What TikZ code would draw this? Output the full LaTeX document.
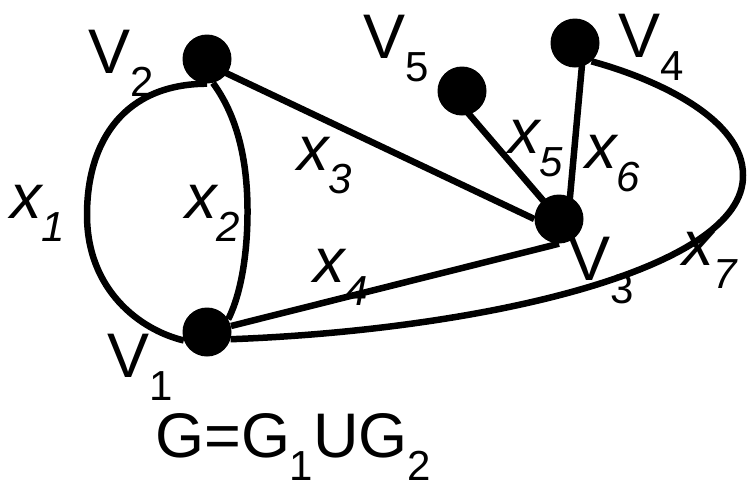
\documentclass[tikz,border=0pt]{standalone}
\usepackage{fontspec}
\setmainfont{Liberation Sans}
\usetikzlibrary{calc}
\newcommand\sbs[2]{#1\raisebox{-23pt}{\fontsize{42}{42}\selectfont #2}}
\begin{document}
\begin{tikzpicture}[x=1pt,y=-1pt,
  vtx/.style={circle,fill=black,inner sep=0pt,minimum size=49pt},
  lbl/.style={anchor=base west,inner sep=0pt,font=\fontsize{63}{63}\selectfont},
  elbl/.style={anchor=base west,inner sep=0pt,font=\fontsize{63}{63}\selectfont\itshape},
  ln/.style={line width=6.5pt}]
\useasboundingbox (0,0) rectangle (748,483);
% vertices
\node[vtx] (V2) at (207,59) {};
\node[vtx] (V1) at (207,332) {};
\node[vtx] (V3) at (559,219) {};
\node[vtx] (V5) at (462,91) {};
\node[vtx] (V4) at (575,43) {};
% edges
\draw[ln] (V2.south) .. controls (125,84) and (87,140) .. (87,215)
          .. controls (87,290) and (140,330) .. (V1.200);
\draw[ln] (V2.-76) .. controls (240,120) and (250,170) .. (247,232)
          .. controls (245,270) and (238,300) .. (V1.31);
\draw[ln] ($(V2.center)+(0,5)$) -- (V3.west);
\draw[ln] (V1) -- (V3.south);
\draw[ln] (V3.center) -- ($(V5.center)+(-6,8)$);
\draw[ln] ($(V4.center)+(9,0)$) -- ($(V3.center)+(9,0)$);
\draw[ln] (V1.-17) .. controls (480,330) and (745,270) .. (743,175)
          .. controls (743,120) and (660,80) .. (V4.-48);
% vertex labels
\node[lbl] (lV2) at (88,73) {\sbs{V}{2}};
\node[lbl] (lV1) at (107,377) {\sbs{V}{1}};
\node[lbl] (lV5) at (363,58) {\sbs{V}{5}};
\node[lbl] (lV4) at (618,57) {\sbs{V}{4}};
\node[lbl] (lV3) at (568,280) {\sbs{V}{3}};
% edge labels
\node[elbl] (lx1) at (10,218) {\sbs{x}{1}};
\node[elbl] (lx2) at (185,218) {\sbs{x}{2}};
\node[elbl] (lx3) at (297,170) {\sbs{x}{3}};
\node[elbl] (lx4) at (313,282) {\sbs{x}{4}};
\node[elbl] (lx5) at (508,153) {\sbs{x}{5}};
\node[elbl] (lx6) at (585,168) {\sbs{x}{6}};
\node[elbl] (lx7) at (682,265) {\sbs{x}{7}};
% caption
\node[lbl] (cap) at (155,457) {G=\sbs{G}{1}U\sbs{G}{2}};
\end{tikzpicture}
\end{document}
